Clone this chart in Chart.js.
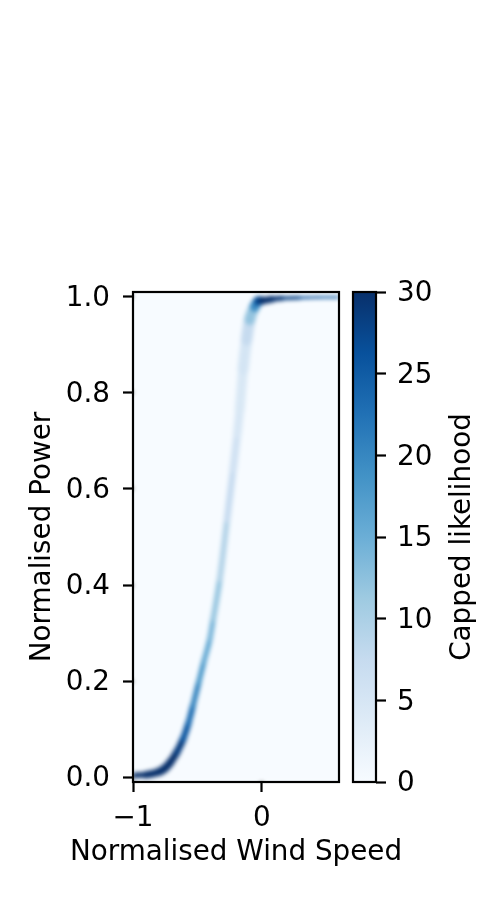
<!DOCTYPE html>
<html>
<head>
<meta charset="utf-8">
<script src="https://cdn.jsdelivr.net/npm/chart.js@4/dist/chart.umd.min.js"></script>
<style>
  body { margin: 0; background: #fff; }
  #wrap { position: relative; width: 500px; height: 900px; }
  canvas { position: absolute; left: 0; top: 0; }
</style>
</head>
<body>
<div id="wrap">
  <canvas id="curve" width="500" height="900"></canvas>
  <canvas id="colorbar" width="500" height="900"></canvas>
</div>
<script>
// ridge of the likelihood map
const windSpeed = [-1.00, -0.90, -0.80, -0.75, -0.71, -0.66, -0.61, -0.57, -0.535, -0.49, -0.45, -0.403, -0.377, -0.326, -0.269, -0.222, -0.19, -0.171, -0.145, -0.118, -0.093, -0.054, -0.028, 0.00, 0.08, 0.16, 0.30, 0.45, 0.60];
const power = [0.004, 0.005, 0.011, 0.019, 0.031, 0.052, 0.080, 0.112, 0.148, 0.197, 0.240, 0.288, 0.329, 0.412, 0.537, 0.641, 0.715, 0.765, 0.849, 0.911, 0.953, 0.980, 0.991, 0.992, 0.995, 0.997, 0.998, 0.999, 0.999];
const likelihood = [30, 30, 30, 30, 30, 30, 27, 24, 22, 19, 17, 15, 13, 10.5, 8, 6.5, 5, 4.5, 4.5, 6, 9, 15, 24, 30, 30, 29, 27, 25, 24];
// spread of the band, in normalised power
const spread = [0.010, 0.013, 0.017, 0.017, 0.016, 0.015, 0.014, 0.013, 0.012, 0.011, 0.011, 0.011, 0.012, 0.012, 0.013, 0.015, 0.017, 0.019, 0.022, 0.024, 0.024, 0.022, 0.020, 0.016, 0.012, 0.009, 0.006, 0.005, 0.005];

const xTicks = [-1, 0];
const yTicks = [0, 0.2, 0.4, 0.6, 0.8, 1.0];
const cbTicks = [0, 5, 10, 15, 20, 25, 30];
const cbMin = 0;
const cbMax = 30;

const blues = ["#f7fbff", "#deebf7", "#c6dbef", "#9ecae1", "#6baed6", "#4292c6", "#2171b5", "#08519c", "#08306b"];

const FONT = "'DejaVu Sans', sans-serif";
Chart.defaults.font.family = FONT;
Chart.defaults.font.size = 27.8;
Chart.defaults.color = "#000";

function hexToRgb(h) {
    return [parseInt(h.slice(1, 3), 16), parseInt(h.slice(3, 5), 16), parseInt(h.slice(5, 7), 16)];
}

function colourFor(v) {
    let t = Math.min(Math.max((v - cbMin) / (cbMax - cbMin), 0), 1) * (blues.length - 1);
    const i = Math.min(Math.floor(t), blues.length - 2);
    const f = t - i;
    const a = hexToRgb(blues[i]);
    const b = hexToRgb(blues[i + 1]);
    const c = a.map((x, k) => Math.round(x + (b[k] - x) * f));
    return `rgb(${c[0]},${c[1]},${c[2]})`;
}

const minus = v => (v < 0 ? "\u2212" + Math.abs(v) : String(v));

// background, soft blur of the band, box and x title
const frame = {
    id: "frame",
    beforeDatasetsDraw(chart) {
        const a = chart.chartArea;
        chart.ctx.save();
        chart.ctx.fillStyle = blues[0];
        chart.ctx.fillRect(a.left, a.top, a.width, a.height);
        chart.ctx.restore();
    },
    afterDatasetsDraw(chart) {
        const a = chart.chartArea;
        const ctx = chart.ctx;
        const off = document.createElement("canvas");
        off.width = chart.width;
        off.height = chart.height;
        off.getContext("2d").drawImage(chart.canvas, 0, 0);
        ctx.save();
        ctx.beginPath();
        ctx.rect(a.left, a.top, a.width, a.height);
        ctx.clip();
        ctx.fillStyle = blues[0];
        ctx.fillRect(a.left, a.top, a.width, a.height);
        ctx.filter = "blur(2px)";
        ctx.drawImage(off, 0, 0);
        ctx.restore();
    },
    afterDraw(chart) {
        const a = chart.chartArea;
        const ctx = chart.ctx;
        ctx.save();
        ctx.strokeStyle = "#000";
        ctx.lineWidth = 2.2;
        ctx.strokeRect(a.left, a.top, a.width, a.height);
        ctx.fillStyle = "#000";
        ctx.font = "27.8px " + FONT;
        ctx.textAlign = "center";
        ctx.textBaseline = "middle";
        ctx.fillText("Normalised Wind Speed", (a.left + a.right) / 2, 853);
        ctx.restore();
    }
};

const tickGrid = { drawOnChartArea: false, drawTicks: true, tickLength: 10, tickWidth: 2.2, tickColor: "#000" };

function segWidth(c) {
    const y = c.chart.scales.y;
    const s = (spread[c.p0DataIndex] + spread[c.p1DataIndex]) / 2;
    return Math.abs(y.getPixelForValue(0) - y.getPixelForValue(s));
}

new Chart(document.getElementById("curve"), {
    type: "line",
    data: {
        datasets: [{
            data: windSpeed.map((x, i) => ({ x, y: power[i] })),
            borderCapStyle: "round",
            borderJoinStyle: "round",
            cubicInterpolationMode: "monotone",
            pointRadius: 0,
            fill: false,
            segment: {
                borderColor: c => colourFor((likelihood[c.p0DataIndex] + likelihood[c.p1DataIndex]) / 2),
                borderWidth: segWidth
            }
        }]
    },
    options: {
        responsive: false,
        animation: false,
        devicePixelRatio: 1,
        layout: { padding: { top: 292, right: 161, left: 0, bottom: 0 } },
        plugins: { legend: { display: false }, tooltip: { enabled: false } },
        scales: {
            x: {
                type: "linear",
                min: -1,
                max: 0.6,
                afterFit: s => { s.height = 118; },
                afterBuildTicks: s => { s.ticks = xTicks.map(v => ({ value: v })); },
                ticks: { padding: 10, maxRotation: 0, callback: v => minus(v) },
                grid: tickGrid,
                border: { display: false }
            },
            y: {
                type: "linear",
                min: -0.01,
                max: 1.01,
                afterFit: s => { s.width = 133; },
                afterBuildTicks: s => { s.ticks = yTicks.map(v => ({ value: v })); },
                ticks: { padding: 13, labelOffset: 2, callback: v => v.toFixed(1) },
                grid: tickGrid,
                border: { display: false },
                title: { display: true, text: "Normalised Power", padding: 26 }
            }
        }
    },
    plugins: [frame]
});

const cbFrame = {
    id: "cbFrame",
    afterDraw(chart) {
        const a = chart.chartArea;
        const ctx = chart.ctx;
        ctx.save();
        ctx.strokeStyle = "#000";
        ctx.lineWidth = 2.2;
        ctx.strokeRect(a.left, a.top, a.width, a.height);
        ctx.translate(chart.scales.y.right - 37, (a.top + a.bottom) / 2);
        ctx.rotate(-Math.PI / 2);
        ctx.fillStyle = "#000";
        ctx.font = "27.8px " + FONT;
        ctx.textAlign = "center";
        ctx.textBaseline = "middle";
        ctx.fillText("Capped likelihood", 0, 0);
        ctx.restore();
    }
};

new Chart(document.getElementById("colorbar"), {
    type: "bar",
    data: {
        labels: [""],
        datasets: [{
            data: [[cbMin, cbMax]],
            barPercentage: 1,
            categoryPercentage: 1,
            borderWidth: 0,
            backgroundColor: c => {
                const a = c.chart.chartArea;
                if (!a) return blues[0];
                const g = c.chart.ctx.createLinearGradient(0, a.bottom, 0, a.top);
                blues.forEach((col, i) => g.addColorStop(i / (blues.length - 1), col));
                return g;
            }
        }]
    },
    options: {
        responsive: false,
        animation: false,
        devicePixelRatio: 1,
        layout: { padding: { top: 292, right: 0, left: 353, bottom: 118 } },
        plugins: { legend: { display: false }, tooltip: { enabled: false } },
        scales: {
            x: { display: false },
            y: {
                position: "right",
                min: cbMin,
                max: cbMax,
                afterFit: s => { s.width = 124; },
                afterBuildTicks: s => { s.ticks = cbTicks.map(v => ({ value: v })); },
                ticks: { padding: 11, labelOffset: 2 },
                grid: tickGrid,
                border: { display: false }
            }
        }
    },
    plugins: [cbFrame]
});
</script>
</body>
</html>
